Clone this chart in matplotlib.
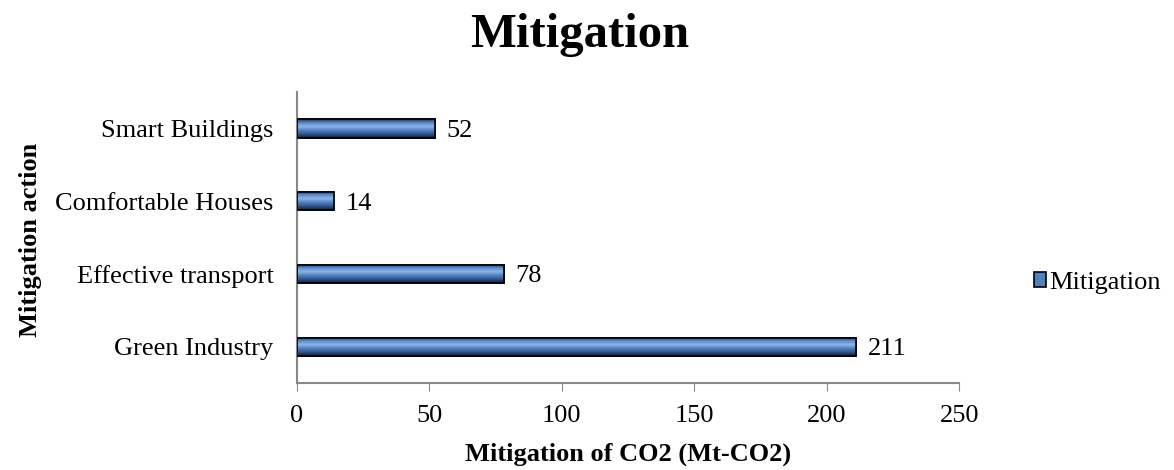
import numpy as np
import matplotlib.pyplot as plt
from matplotlib.colors import LinearSegmentedColormap
from matplotlib.patches import Patch

plt.rcParams['font.family'] = ['Liberation Serif', 'DejaVu Serif']

actions = ['Green Industry', 'Effective transport', 'Comfortable Houses', 'Smart Buildings']
mitigation = [211, 78, 14, 52]
xticks = [0, 50, 100, 150, 200, 250]

fig = plt.figure(figsize=(11.74, 4.70), dpi=100)
ax = fig.add_axes([0.253, 0.185, 0.564, 0.619])

bars = ax.barh(actions, mitigation, height=0.25, color='#4f81bd',
               edgecolor='black', linewidth=1.2, zorder=2)

# vertical gradient inside each bar
grad = LinearSegmentedColormap.from_list('g', ['#0d1b33', '#2f5590', '#4f81bd', '#8db4ea', '#5b8dcf', '#1c3766'])
g = np.linspace(0, 1, 64).reshape(-1, 1)
for b in bars:
    x0, y0, w, h = b.get_x(), b.get_y(), b.get_width(), b.get_height()
    im = ax.imshow(g, cmap=grad, aspect='auto', extent=(x0, x0 + w, y0, y0 + h),
                   origin='lower', zorder=2.5)
    im.set_clip_path(b)
    ax.barh(y0 + h / 2, w, height=h, fill=False, edgecolor='black', linewidth=1.2, zorder=3)

for b, v in zip(bars, mitigation):
    ax.text(v + 4.5, b.get_y() + b.get_height() / 2, str(v), va='center_baseline',
            ha='left', fontsize=19)

ax.set_xlim(0, 250)
ax.set_ylim(-0.5, len(actions) - 0.5)
ax.set_xticks(xticks)
ax.tick_params(axis='x', labelsize=19, length=6, color='#888888', direction='out', pad=10)
ax.tick_params(axis='y', labelsize=19, length=0, pad=17)
for s in ['top', 'right']:
    ax.spines[s].set_visible(False)
ax.spines['left'].set_color('#888888')
ax.spines['bottom'].set_color('#888888')
ax.spines['left'].set_linewidth(1.5)
ax.spines['bottom'].set_linewidth(1.5)

ax.set_xlabel('Mitigation of CO2 (Mt-CO2)', fontsize=19, fontweight='bold', labelpad=11)
fig.text(0.026, 0.49, 'Mitigation action', rotation=90, fontsize=19, fontweight='bold',
         va='center', ha='center')
fig.text(0.494, 0.925, 'Mitigation', fontsize=35, fontweight='bold', ha='center', va='center')

fig.legend(handles=[Patch(facecolor='#4f81bd', edgecolor='black', linewidth=1.2)],
           labels=['Mitigation'], loc='center left', bbox_to_anchor=(0.881, 0.398),
           frameon=False, fontsize=19, handlelength=0.45, handleheight=0.45, handletextpad=0.1,
           borderpad=0, borderaxespad=0)

fig.savefig('out.png', dpi=100)
